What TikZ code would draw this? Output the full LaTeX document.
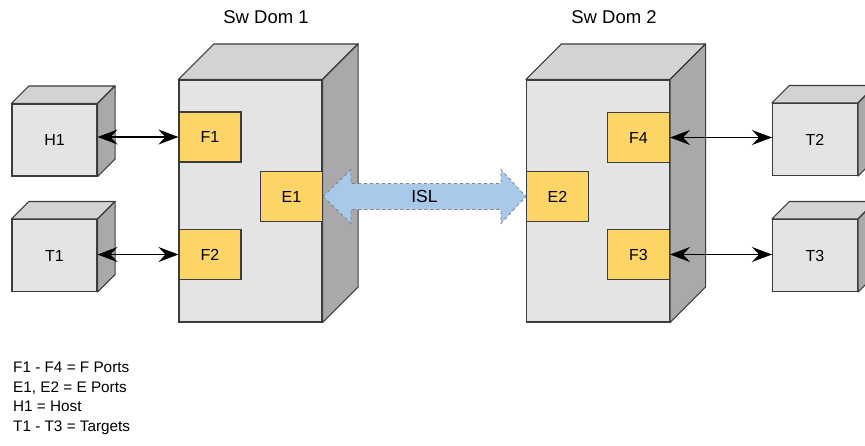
\documentclass[tikz,border=0pt]{standalone}
\usepackage{fontspec}
\setmainfont{Liberation Sans}
\usetikzlibrary{arrows.meta,calc}

\definecolor{facecol}{HTML}{E5E4E5}
\definecolor{topcol}{HTML}{D4D3D4}
\definecolor{sidecol}{HTML}{A9A8AA}
\definecolor{portcol}{HTML}{FDD466}
\definecolor{islcol}{HTML}{A9C9EA}
\definecolor{edgecol}{HTML}{3C3C3C}

\begin{document}
\begin{tikzpicture}[x=1pt,y=-1pt]
\tikzset{boite/.style={draw=edgecol, fill=facecol, line width=1.1pt, inner sep=0pt},
  face/.style={draw=edgecol, line width=1.1pt, line join=round},
  hote/.style={boite, minimum width=85pt, minimum height=72pt, font=\fontsize{16}{18}\selectfont},
  commut/.style={boite, minimum width=143pt, minimum height=242pt},
  port/.style={draw=edgecol, fill=portcol, line width=1.1pt, inner sep=0pt,
    minimum width=62pt, minimum height=50pt, font=\fontsize{16}{18}\selectfont},
  lien/.style={{Stealth[length=20pt,width=15pt,inset=7pt]}-{Stealth[length=20pt,width=15pt,inset=7pt]}, line width=1.2pt}}
\useasboundingbox (0,0) rectangle (865,445);
\clip (0,0) rectangle (865,445);
\node[commut] (S1) at (250.5,201) {};
\node[commut] (S2) at (598,201) {};
\node[hote] (H1) at (54.5,140) {H1};
\node[hote] (T1) at (54.5,255.5) {T1};
\node[hote] (T2) at (815,139.5) {T2};
\node[hote] (T3) at (815,255.5) {T3};
\foreach \n/\d in {S1/35.5, S2/35.5, H1/17.5, T1/17.5, T2/17.5, T3/17.5} {
  \path (\n.north east) ++(\d,-\d) coordinate (hd);
  \path (\n.south east) ++(\d,-\d) coordinate (bd);
  \draw[face, fill=topcol] (\n.north west) -- ++(\d,-\d) -- (hd) -- (\n.north east) -- cycle;
  \draw[face, fill=sidecol] (\n.north east) -- (hd) -- (bd) -- (\n.south east) -- cycle;
}
\node[port] (F1) at (210,137) {F1};
\node[port] (F2) at (210,254.5) {F2};
\node[port] (E1) at (291.5,196.5) {E1};
\node[port] (E2) at (557.5,196.5) {E2};
\node[port] (F4) at (638.5,137.5) {F4};
\node[port] (F3) at (638.5,254.5) {F3};
\node[font=\fontsize{18.5}{20}\selectfont] (titre1) at (266,17) {Sw Dom 1};
\node[font=\fontsize{18.5}{20}\selectfont] (titre2) at (614,17) {Sw Dom 2};
% liaison ISL entre les deux commutateurs
\draw[fill=islcol, draw=gray, dashed, line width=0.8pt]
  (E1.east) -- ++(28,-27) -- ++(0,14) -- ($(E2.west)+(-25,-13)$) -- ++(0,-14) -- (E2.west)
  -- ++(-25,27) -- ++(0,-14) -- ($(E1.east)+(28,13)$) -- ++(0,14) -- cycle;
\node[font=\fontsize{17.5}{19}\selectfont] (isl) at ($(E1.east)!0.5!(E2.west)$) {ISL};
\draw[lien] (H1.east |- F1.west) -- (F1.west);
\draw[lien] (T1.east |- F2.west) -- (F2.west);
\draw[lien] (F4.east) -- (T2.west |- F4.east);
\draw[lien] (F3.east) -- (T3.west |- F3.east);
\node[anchor=north west, align=left, inner sep=0pt, font=\fontsize{15.3}{19.5}\selectfont] (legende) at (13,362)
  {F1 - F4 = F Ports\\E1, E2 = E Ports\\H1 = Host\\T1 - T3 = Targets};
\end{tikzpicture}
\end{document}
